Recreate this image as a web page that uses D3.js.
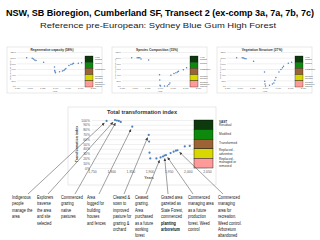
<!DOCTYPE html>
<meta charset="utf-8">
<style>
  body { margin: 0; background: #fff; }
  svg { display: block; font-family: "Liberation Sans", Arial, sans-serif; }
  .grid line { stroke: #d9d9d9; stroke-width: 0.4; }
  .grid path { display: none; }
  .ax path { display: none; }
  .ax text { fill: #595959; }
  .frame { fill: #fff; stroke: #d9d9d9; stroke-width: 0.6; }
  .note { fill: #111; font-size: 4.7px; }
  .arrow { stroke: #404040; stroke-width: 0.5; }
</style>
<body>
<svg width="320" height="240"></svg>
<script src="https://cdn.jsdelivr.net/npm/d3@7"></script>
<script>

// chart data
const years = [1788, 1810, 1815, 1820, 1825, 1855, 1898, 1899, 1900, 1902, 1918, 1929, 1935, 1939, 1943, 1955, 1963, 1969, 1973, 1992, 2005];
const totalIndex   = [98, 100, 99, 98, 96, 86, 69, 55, 32, 20, 20, 22, 24, 26, 27, 31, 34, 36, 37, 45, 46];
const regenCapacity = [100, 98, 95, 92, 90, 84, 67, 55, 50, 47, 50, 53, 55, 58, 62, 72, 76, 78, 80, 80, 82];
const speciesComp  = [100, 100, 100, 100, 95, 92, 40, 21, 3, 0, 0, 0, 5, 11, 38, 44, 47, 49, 52, 57, 64];
const vegStructure = [100, 100, 99, 97, 96, 87, 49, 17, 7, 0, 3, 7, 11, 20, 30, 49, 58, 64, 70, 80, 84];

const xTicks = [1750, 1800, 1850, 1900, 1950, 2000, 2050];
const mainYTicks = [0, 10, 20, 30, 40, 50, 60, 70, 80, 90, 100];
const miniYTicks = [0, 20, 40, 60, 80, 100, 120];

const miniTitles = ["Regenerative capacity (58%)", "Species Composition (15%)", "Vegetation Structure (27%)"];
const miniYTitles = ["Regenerative capacity", "Species composition", "Vegetation structure"];
const miniSeries = [regenCapacity, speciesComp, vegStructure];

const legendColors = ["#0c3a0c", "#0d8a0d", "#9c6436", "#d8d800", "#ff9a9a"];
const legendLabels = [["VAST", "Residual"], ["Modified"], ["Transformed"], ["Replaced -", "adventive"], ["Replaced -", "managed or", "removed"]];

const notes = [
  { x: 12,  ax: 16, target: 0,  lines: ["Indigenous", "people", "manage the", "area"] },
  { x: 37,  ax: 11, target: 1,  lines: ["Explorers", "traverse", "the area", "and site", "selected"] },
  { x: 61,  ax: 14, target: 2,  lines: ["Commenced", "grazing", "native", "pastures"] },
  { x: 87,  ax: 12, target: 5,  lines: ["Area", "logged for", "building", "houses", "and fences"] },
  { x: 113, ax: 11, target: 6,  lines: ["Cleared &", "sown to", "improved", "pasture for", "grazing &", "orchard"] },
  { x: 135, ax: 11, target: 11, lines: ["Ceased", "grazing.", "Area", "purchased", "as a future", "working", "forest"] },
  { x: 161, ax: 7,  target: 13, lines: ["Grazed area", "gazetted as", "State Forest,", "commenced", "planting", "arboretum"], bold: [4, 5] },
  { x: 188, ax: 5,  target: 14, lines: ["Commenced", "managing  area", "as a future", "production", "forest. Weed", "control"] },
  { x: 218, ax: 5,  target: 18, lines: ["Commenced", "managing", "area for", "recreation.", "Weed control.", "Arboretum", "abandoned"] }
];

const svg = d3.select("svg");

// arrowhead
svg.append("defs").append("marker")
  .attr("id", "head")
  .attr("viewBox", "0 0 10 10")
  .attr("refX", 9).attr("refY", 5)
  .attr("markerUnits", "userSpaceOnUse")
  .attr("markerWidth", 3).attr("markerHeight", 3)
  .attr("orient", "auto")
  .append("path").attr("d", "M0,0L10,5L0,10z").attr("fill", "#404040");

// titles
svg.append("text")
  .attr("x", 160).attr("y", 16)
  .attr("text-anchor", "middle")
  .attr("font-weight", "bold").attr("font-size", 8.8)
  .attr("textLength", 308).attr("lengthAdjust", "spacingAndGlyphs")
  .text("NSW, SB Bioregion, Cumberland SF, Transect 2 (ex-comp 3a, 7a, 7b, 7c)");
svg.append("text")
  .attr("x", 158).attr("y", 28)
  .attr("text-anchor", "middle")
  .attr("font-size", 8).attr("fill", "#222")
  .attr("textLength", 236).attr("lengthAdjust", "spacingAndGlyphs")
  .text("Reference pre-European: Sydney Blue Gum High Forest");

// the three small charts
function drawMini(left, title, yTitle, values) {
  const top = 47;
  const g = svg.append("g");
  g.append("rect").attr("class", "frame")
    .attr("x", left).attr("y", top).attr("width", 95).attr("height", 46);

  const x = d3.scaleLinear().domain([1750, 2050]).range([left + 10, left + 86]);
  const y = d3.scaleLinear().domain([0, 120]).range([86, 52]);

  g.append("g").attr("class", "grid")
    .attr("transform", `translate(${left + 10},0)`)
    .call(d3.axisLeft(y).tickValues(miniYTicks).tickSize(-76).tickFormat(""));

  g.append("g").attr("class", "ax")
    .attr("transform", `translate(${left + 10},0)`)
    .call(d3.axisLeft(y).tickValues(miniYTicks).tickSize(0).tickPadding(1).tickFormat(d => d + "%"))
    .selectAll("text").attr("font-size", 2.2);

  g.append("g").attr("class", "ax")
    .attr("transform", "translate(0,86)")
    .call(d3.axisBottom(x).tickValues(xTicks).tickSize(0).tickPadding(1.5).tickFormat(d3.format(",")))
    .selectAll("text").attr("font-size", 2.2);

  g.append("text").attr("x", left + 48).attr("y", 92)
    .attr("text-anchor", "middle").attr("font-size", 2.4).attr("fill", "#595959").text("Year");
  g.append("text")
    .attr("transform", `translate(${left + 3.5},69) rotate(-90)`)
    .attr("text-anchor", "middle").attr("font-size", 2.2).attr("fill", "#595959").text(yTitle);
  g.append("text").attr("x", left + 45).attr("y", 51)
    .attr("text-anchor", "middle").attr("font-size", 3.2).attr("font-weight", "bold")
    .attr("fill", "#333").text(title);

  g.selectAll(".dot").data(years).enter().append("circle")
    .attr("cx", d => x(d)).attr("cy", (d, i) => y(values[i]))
    .attr("r", 0.75).attr("fill", "#4f81bd");

  const ly = d3.scaleBand().domain(d3.range(legendColors.length)).range([56, 87]);
  g.selectAll(".lg").data(legendColors).enter().append("rect")
    .attr("x", left + 78).attr("y", (d, i) => ly(i))
    .attr("width", 8).attr("height", ly.bandwidth())
    .attr("fill", d => d).attr("stroke", "#000").attr("stroke-width", 0.3);
  legendLabels.forEach((lab, i) => {
    g.append("text").attr("x", left + 88).attr("y", ly(i) + 2)
      .attr("font-size", 1.8).attr("fill", "#333")
      .selectAll("tspan").data(lab).enter().append("tspan")
      .attr("x", left + 88).attr("dy", (d, j) => j ? 2 : 0).text(d => d);
  });
}

miniTitles.forEach((t, i) => drawMini(7 + i * 105, t, miniYTitles[i], miniSeries[i]));

// main chart
const main = svg.append("g");
main.append("rect").attr("class", "frame")
  .attr("x", 68).attr("y", 107).attr("width", 148).attr("height", 78);

const x = d3.scaleLinear().domain([1750, 2050]).range([92, 207]);
const y = d3.scaleLinear().domain([0, 100]).range([168, 120]);

main.append("g").attr("class", "grid")
  .attr("transform", "translate(92,0)")
  .call(d3.axisLeft(y).tickValues(mainYTicks).tickSize(-115).tickFormat(""));

main.append("g").attr("class", "ax")
  .attr("transform", "translate(92,0)")
  .call(d3.axisLeft(y).tickValues(mainYTicks).tickSize(0).tickPadding(2).tickFormat(d => d + "%"))
  .selectAll("text").attr("font-size", 3.4);

main.append("g").attr("class", "ax")
  .attr("transform", "translate(0,168)")
  .call(d3.axisBottom(x).tickValues(xTicks).tickSize(0).tickPadding(3).tickFormat(d3.format(",")))
  .selectAll("text").attr("font-size", 3.4);

main.append("text").attr("x", 142).attr("y", 114)
  .attr("text-anchor", "middle").attr("font-size", 5.6).attr("font-weight", "bold")
  .attr("fill", "#333").text("Total transformation index");
main.append("text").attr("x", 149).attr("y", 179)
  .attr("text-anchor", "middle").attr("font-size", 3.6).attr("font-weight", "bold")
  .attr("fill", "#595959").text("Years");
main.append("text")
  .attr("transform", "translate(78,144) rotate(-90)")
  .attr("text-anchor", "middle").attr("font-size", 3.6).attr("font-weight", "bold")
  .attr("fill", "#404040").text("Transformation index");

main.selectAll(".dot").data(years).enter().append("circle")
  .attr("cx", d => x(d)).attr("cy", (d, i) => y(totalIndex[i]))
  .attr("r", 1.1).attr("fill", "#4f81bd");

const ly = d3.scaleBand().domain(d3.range(legendColors.length)).range([120, 168]);
main.selectAll(".lg").data(legendColors).enter().append("rect")
  .attr("x", 194).attr("y", (d, i) => ly(i))
  .attr("width", 19).attr("height", ly.bandwidth())
  .attr("fill", d => d).attr("stroke", "#000").attr("stroke-width", 0.4);
legendLabels.forEach((lab, i) => {
  main.append("text").attr("y", ly(i) + (lab.length > 2 ? 1.5 : lab.length > 1 ? 2.5 : 5))
    .attr("font-size", 3.2).attr("fill", "#333")
    .selectAll("tspan").data(lab).enter().append("tspan")
    .attr("x", 219).attr("dy", (d, j) => j ? 3.4 : 0)
    .attr("font-weight", (d, j) => (i === 0 && j === 0) ? "bold" : null)
    .text(d => d);
});

// notes with arrows to the points
notes.forEach(n => {
  const t = svg.append("text").attr("class", "note")
    .attr("transform", `translate(${n.x},199) scale(0.82,1)`);
  t.selectAll("tspan").data(n.lines).enter().append("tspan")
    .attr("x", 0).attr("dy", (d, j) => j ? 6.4 : 0)
    .attr("font-weight", (d, j) => n.bold && n.bold.includes(j) ? "bold" : null)
    .text(d => d);

  const x0 = n.x + n.ax, y0 = 194;
  const tx = x(years[n.target]), ty = y(totalIndex[n.target]);
  const dx = tx - x0, dy = ty - y0, len = Math.hypot(dx, dy);
  const stop = 3;
  svg.append("line").attr("class", "arrow")
    .attr("x1", x0).attr("y1", y0)
    .attr("x2", tx - dx / len * stop).attr("y2", ty - dy / len * stop)
    .attr("marker-end", "url(#head)");
});

</script>
</body>
